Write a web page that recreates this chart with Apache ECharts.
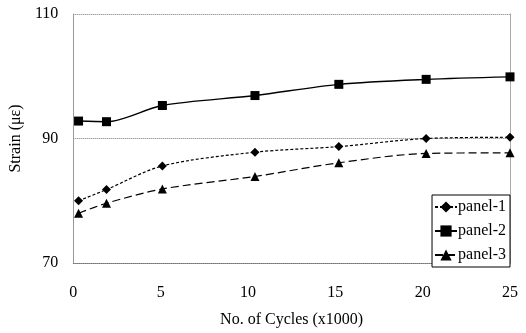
<!DOCTYPE html>
<html>
<head>
<meta charset="utf-8">
<script src="https://cdn.jsdelivr.net/npm/echarts@6/dist/echarts.min.js"></script>
<style>
  html, body { margin: 0; padding: 0; background: #fff; }
  #main { width: 526px; height: 333px; }
</style>
</head>
<body>
<div id="main"></div>
<script>
// cycles (x1000)
var cycles = [0.3, 1.9, 5.1, 10.4, 15.2, 20.2, 25];
var panel1 = [80.0, 81.8, 85.6, 87.8, 88.7, 90.0, 90.2];
var panel2 = [92.8, 92.7, 95.3, 96.9, 98.7, 99.5, 99.9];
var panel3 = [78.0, 79.6, 81.9, 83.9, 86.1, 87.6, 87.7];
var yTicks = [70, 90, 110];

function pairs(vals) {
  return vals.map(function (v, i) { return [cycles[i], v]; });
}

var font = 'Liberation Serif, Times New Roman, serif';
var chart = echarts.init(document.getElementById('main'));
chart.setOption({
  animation: false,
  textStyle: { fontFamily: font },
  grid: { left: 73, right: 16, top: 14, bottom: 67 },
  legend: {
    orient: 'vertical',
    right: 16,
    bottom: 66,
    padding: [4, 4, 4, 2],
    itemGap: 8,
    itemWidth: 22,
    itemHeight: 14,
    borderColor: '#000',
    borderWidth: 1,
    backgroundColor: '#fff',
    textStyle: { fontFamily: font, fontSize: 16, color: '#000', padding: [0, 0, 0, -4] },
    data: ['panel-1', 'panel-2', 'panel-3']
  },
  xAxis: {
    type: 'value',
    min: 0, max: 25, interval: 5,
    name: 'No. of Cycles (x1000)',
    nameLocation: 'middle',
    nameGap: 49,
    nameTextStyle: { fontFamily: font, fontSize: 16, color: '#000' },
    axisLine: { show: true, lineStyle: { color: '#777', type: 'dotted', width: 1 } },
    axisTick: { show: false },
    axisLabel: { fontFamily: font, fontSize: 16, color: '#000', margin: 22 },
    splitLine: { show: false }
  },
  yAxis: [{
    type: 'value',
    min: yTicks[0], max: yTicks[yTicks.length - 1], interval: 20,
    name: 'Strain (με)',
    nameLocation: 'middle',
    nameGap: 48,
    nameTextStyle: { fontFamily: font, fontSize: 16, color: '#000' },
    axisLine: { show: true, lineStyle: { color: '#999', width: 1 } },
    axisTick: { show: false },
    axisLabel: { fontFamily: font, fontSize: 16, color: '#000', margin: 15 },
    splitLine: { show: true, lineStyle: { color: '#777', type: 'dotted', width: 1 } }
  }, {
    type: 'value',
    position: 'right',
    min: 70, max: 110, interval: 20,
    axisLine: { show: true, lineStyle: { color: '#aaa', width: 1 } },
    axisTick: { show: false },
    axisLabel: { show: false },
    splitLine: { show: false }
  }],
  series: [{
    name: 'panel-1',
    type: 'line',
    smooth: 0.3,
    data: pairs(panel1),
    symbol: 'diamond',
    symbolSize: 9,
    itemStyle: { color: '#000' },
    lineStyle: { color: '#000', width: 1.2, type: [3, 2] }
  }, {
    name: 'panel-2',
    type: 'line',
    smooth: 0.3,
    data: pairs(panel2),
    symbol: 'rect',
    symbolSize: 9,
    itemStyle: { color: '#000' },
    lineStyle: { color: '#000', width: 1.4, type: 'solid' }
  }, {
    name: 'panel-3',
    type: 'line',
    smooth: 0.3,
    data: pairs(panel3),
    symbol: 'triangle',
    symbolSize: 9,
    itemStyle: { color: '#000' },
    lineStyle: { color: '#000', width: 1.2, type: [8, 4] }
  }]
});
</script>
</body>
</html>
